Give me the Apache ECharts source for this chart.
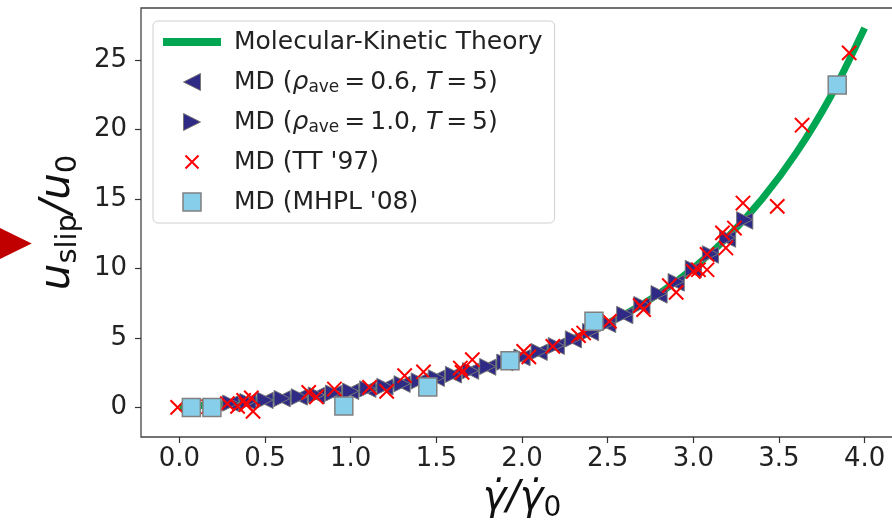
<!DOCTYPE html>
<html>
<head>
<meta charset="utf-8">
<script src="https://cdn.jsdelivr.net/npm/echarts@6/dist/echarts.min.js"></script>
<style>
	html, body { margin: 0; padding: 0; background: #fff; overflow: hidden; }
	#chart { width: 906px; height: 531px; }
</style>
</head>
<body>
<div id="chart"></div>
<script>
// 이론 곡선 (Molecular-Kinetic Theory)
let mktX = [0.0, 0.2, 0.4, 0.6, 0.8, 1.0, 1.2, 1.4, 1.6, 1.8, 2.0, 2.2, 2.4, 2.6, 2.8, 3.0, 3.2, 3.4, 3.6, 3.8, 4.0];
let mktY = [0.0, 0.20, 0.41, 0.64, 0.89, 1.18, 1.51, 1.90, 2.38, 2.94, 3.63, 4.46, 5.47, 6.70, 8.19, 10.02, 12.25, 14.97, 18.29, 22.33, 27.29];

// MD rho=0.6 (왼쪽 삼각형)
let md06X = [0.30, 0.40, 0.50, 0.60, 0.70, 0.80, 0.90, 1.00, 1.10, 1.20, 1.30, 1.40, 1.50, 1.60, 1.70, 1.80, 1.90, 2.00, 2.10, 2.20, 2.30, 2.40, 2.50, 2.60, 2.70, 2.80, 2.90, 3.00, 3.10, 3.20, 3.30];
let md06Y = [0.28, 0.40, 0.50, 0.62, 0.74, 0.86, 1.00, 1.14, 1.30, 1.47, 1.66, 1.86, 2.09, 2.33, 2.60, 2.89, 3.21, 3.57, 3.96, 4.39, 4.86, 5.38, 5.96, 6.60, 7.30, 8.08, 8.94, 9.90, 10.95, 12.10, 13.40];

// MD rho=1.0 (오른쪽 삼각형)
let md10X = [0.30, 0.40, 0.50, 0.60, 0.70, 0.80, 0.90, 1.00, 1.10, 1.20, 1.30, 1.40, 1.50, 1.60, 1.70, 1.80, 1.90, 2.00, 2.10, 2.20, 2.30, 2.40, 2.50, 2.60, 2.70, 2.80, 2.90, 3.00, 3.10, 3.20, 3.30];
let md10Y = [0.31, 0.42, 0.53, 0.64, 0.76, 0.89, 1.03, 1.17, 1.33, 1.51, 1.70, 1.90, 2.13, 2.37, 2.64, 2.94, 3.26, 3.62, 4.02, 4.45, 4.93, 5.46, 6.04, 6.69, 7.40, 8.18, 9.05, 10.00, 11.05, 12.20, 13.50];

// MD (TT '97) 빨간 x 표시
let ttX = [-0.01, 0.17, 0.28, 0.34, 0.375, 0.39, 0.42, 0.43, 0.755, 0.80, 0.905, 1.11, 1.21, 1.315, 1.425, 1.64, 1.65, 1.71, 2.01, 2.04, 2.18, 2.33, 2.36, 2.51, 2.69, 2.71, 2.86, 2.90, 3.00, 3.03, 3.08, 3.08, 3.17, 3.19, 3.24, 3.29, 3.49, 3.635, 3.91];
let ttY = [0.0, 0.05, 0.27, 0.07, 0.50, 0.20, 0.68, -0.29, 1.08, 0.75, 1.32, 1.44, 1.15, 2.28, 2.55, 2.83, 2.52, 3.43, 4.03, 3.63, 4.39, 5.16, 5.35, 6.19, 7.32, 7.03, 8.76, 8.27, 9.78, 9.90, 9.90, 11.00, 12.55, 11.47, 12.90, 14.70, 14.46, 20.30, 25.50];

// MD (MHPL '08) 하늘색 사각형
let mhplX = [0.07, 0.19, 0.96, 1.45, 1.93, 2.42, 3.84];
let mhplY = [0.0, 0.0, 0.1, 1.47, 3.36, 6.19, 23.2];

// 눈금 값
let xTicks = [0, 0.5, 1, 1.5, 2, 2.5, 3, 3.5, 4];
let yTicks = [0, 5, 10, 15, 20, 25];

let seriesNames = ['Molecular-Kinetic Theory', 'MD (rho 0.6)', 'MD (rho 1.0)', "MD (TT '97)", "MD (MHPL '08)"];

function pairs(xs, ys){
	let out = [];
	for(let i = 0; i < xs.length; i++){
		out.push([xs[i], ys[i]]);
	}
	return out;
}

// 마커 모양 (20x20 상자 기준, 앞의 M0,0M20,20 은 크기 맞춤용)
let triLeft = 'path://M0,0M20,20M1.5,10L18.5,1.5L18.5,18.5Z';
let triRight = 'path://M0,0M20,20M18.5,10L1.5,1.5L1.5,18.5Z';
let crossIcon = 'path://M0,0M20,20M3.5,3.5L16.5,16.5M16.5,3.5L3.5,16.5';
let squareIcon = 'path://M0,0M20,20M1,1L19,1L19,19L1,19Z';

let fontFam = 'DejaVu Sans';
let navy = '#2e2a86';
let thin = '\u2009';

var myChart = echarts.init(document.getElementById('chart'));

var option = {
	animation: false,
	backgroundColor: '#fff',
	textStyle: { fontFamily: fontFam },
	grid: {
		left: 141, top: 8, width: 762, height: 429,
		show: true, borderColor: '#444', borderWidth: 1.3,
		backgroundColor: 'transparent'
	},
	legend: {
		orient: 'vertical',
		left: 153, top: 21,
		padding: [7, 12, 7, 6],
		itemWidth: 58, itemHeight: 20, itemGap: 12,
		backgroundColor: 'rgba(255,255,255,0.85)',
		borderColor: '#d0d0d0', borderWidth: 1, borderRadius: 5,
		data: [
			{ name: seriesNames[0], lineStyle: { width: 8, color: '#00a651' },
				itemStyle: { color: 'rgba(0,0,0,0)', borderWidth: 0, opacity: 0 } },
			{ name: seriesNames[1], icon: triLeft, itemStyle: { color: navy, borderColor: '#777', borderWidth: 1 } },
			{ name: seriesNames[2], icon: triRight, itemStyle: { color: navy, borderColor: '#777', borderWidth: 1 } },
			{ name: seriesNames[3], icon: crossIcon, itemStyle: { color: 'rgba(0,0,0,0)', borderColor: '#ff0000', borderWidth: 2 } },
			{ name: seriesNames[4], icon: squareIcon, itemStyle: { color: '#87ceeb', borderColor: '#808080', borderWidth: 1.5 } }
		],
		formatter: function(name){
			if(name == seriesNames[1]){
				return '{g|}MD ({it|ρ}{sub|ave}' + thin + '=' + thin + '0.6, {it|T}' + thin + '=' + thin + '5)';
			}else if(name == seriesNames[2]){
				return '{g|}MD ({it|ρ}{sub|ave}' + thin + '=' + thin + '1.0, {it|T}' + thin + '=' + thin + '5)';
			}
			return '{g|}' + name;
		},
		textStyle: {
			fontFamily: fontFam, fontSize: 25, color: '#222', lineHeight: 28,
			rich: {
				g: { width: 8, lineHeight: 28 },
				it: { fontFamily: fontFam, fontSize: 25, fontStyle: 'italic', color: '#222', lineHeight: 28 },
				sub: { fontFamily: fontFam, fontSize: 17, color: '#222', lineHeight: 12, verticalAlign: 'bottom' }
			}
		}
	},
	xAxis: {
		type: 'value',
		min: -0.224, max: 4.224,
		splitLine: { show: false },
		axisLine: { show: false, onZero: false },
		axisTick: { show: true, length: 6, customValues: xTicks, lineStyle: { color: '#333', width: 1.2 } },
		axisLabel: {
			customValues: xTicks, margin: 9,
			fontFamily: fontFam, fontSize: 26, color: '#222',
			formatter: function(v){ return v.toFixed(1); }
		},
		name: '{i|γ̇/γ̇}{s|0}',
		nameLocation: 'middle',
		nameGap: 38,
		nameTextStyle: {
			rich: {
				i: { fontFamily: fontFam, fontSize: 40, fontStyle: 'italic', color: '#111', lineHeight: 48 },
				s: { fontFamily: fontFam, fontSize: 28, color: '#111', lineHeight: 20, verticalAlign: 'bottom' }
			}
		}
	},
	yAxis: {
		type: 'value',
		min: -2.13, max: 28.73,
		splitLine: { show: false },
		axisLine: { show: false, onZero: false },
		axisTick: { show: true, length: 6, customValues: yTicks, lineStyle: { color: '#333', width: 1.2 } },
		axisLabel: {
			customValues: yTicks, margin: 14,
			fontFamily: fontFam, fontSize: 26, color: '#222'
		},
		name: '{i|u}{s|slip}{i|/u}{s|0}',
		nameLocation: 'middle',
		nameGap: 56,
		nameRotate: 90,
		nameTextStyle: {
			rich: {
				i: { fontFamily: fontFam, fontSize: 42, fontStyle: 'italic', color: '#111', lineHeight: 50 },
				s: { fontFamily: fontFam, fontSize: 29, color: '#111', lineHeight: 20, verticalAlign: 'bottom' }
			}
		}
	},
	graphic: [
		{
			type: 'polygon',
			shape: { points: [[0, 228], [31.7, 243.5], [0, 259]] },
			style: { fill: '#c00000' }
		}
	],
	series: [
		{
			name: seriesNames[0],
			type: 'line',
			z: 1,
			data: pairs(mktX, mktY),
			smooth: 0.3,
			symbol: 'none',
			showSymbol: false,
			lineStyle: { color: '#00a651', width: 7 },
			itemStyle: { color: '#00a651' }
		},
		{
			name: seriesNames[1],
			type: 'scatter',
			z: 2,
			data: pairs(md06X, md06Y),
			symbol: triLeft,
			symbolSize: 19,
			itemStyle: { color: navy, borderColor: '#777', borderWidth: 1, opacity: 1 }
		},
		{
			name: seriesNames[2],
			type: 'scatter',
			z: 3,
			data: pairs(md10X, md10Y),
			symbol: triRight,
			symbolSize: 19,
			itemStyle: { color: navy, borderColor: '#777', borderWidth: 1, opacity: 1 }
		},
		{
			name: seriesNames[3],
			type: 'scatter',
			z: 4,
			data: pairs(ttX, ttY),
			symbol: crossIcon,
			symbolSize: 22,
			itemStyle: { color: 'rgba(0,0,0,0)', borderColor: '#ff0000', borderWidth: 2, opacity: 1 }
		},
		{
			name: seriesNames[4],
			type: 'scatter',
			z: 5,
			data: pairs(mhplX, mhplY),
			symbol: squareIcon,
			symbolSize: 20,
			itemStyle: { color: '#87ceeb', borderColor: '#808080', borderWidth: 1.5, opacity: 1 }
		}
	]
};

myChart.setOption(option);
</script>
</body>
</html>
